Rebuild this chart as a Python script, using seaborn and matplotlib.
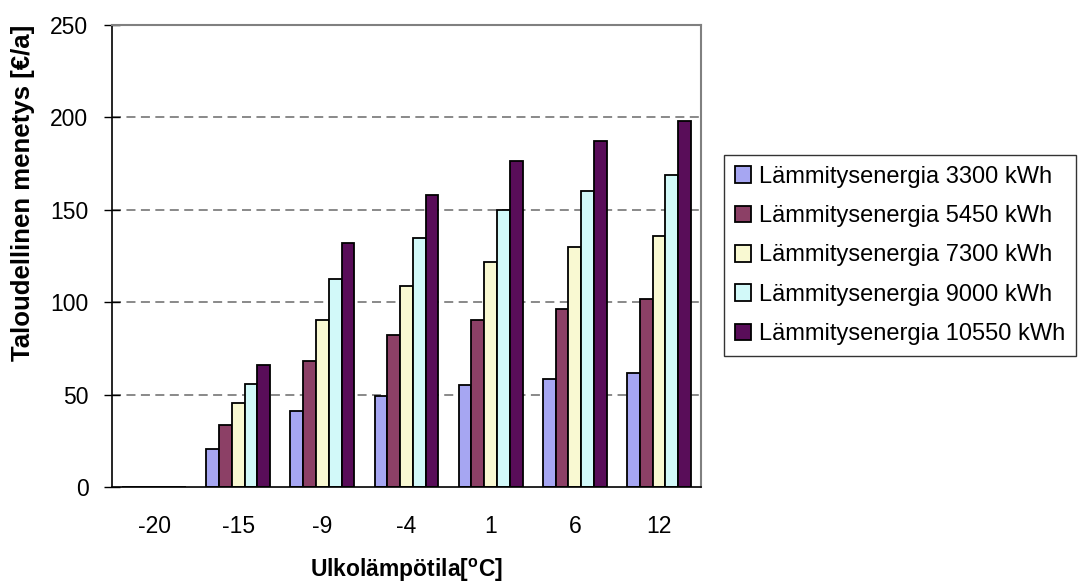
import matplotlib
matplotlib.use("Agg")
import matplotlib.pyplot as plt
import seaborn as sns
import pandas as pd

# data
temps = ["-20", "-15", "-9", "-4", "1", "6", "12"]
series = ["Lämmitysenergia 3300 kWh", "Lämmitysenergia 5450 kWh",
          "Lämmitysenergia 7300 kWh", "Lämmitysenergia 9000 kWh",
          "Lämmitysenergia 10550 kWh"]
e3300 = [0, 20.5, 41, 49.5, 55, 58.5, 61.5]
e5450 = [0, 33.5, 68, 82, 90.5, 96.5, 101.5]
e7300 = [0, 45.5, 90.5, 109, 122, 130, 136]
e9000 = [0, 56, 112.5, 135, 150, 160, 169]
e10550 = [0, 66, 132, 158, 176.5, 187, 198]
colors = ["#9999FF", "#993366", "#FFFFCC", "#CCFFFF", "#660066"]

sns.set_theme(style="white")
plt.rcParams["font.family"] = ["Liberation Sans", "DejaVu Sans"]
plt.rcParams["text.color"] = "black"
plt.rcParams["axes.labelcolor"] = "black"
plt.rcParams["xtick.color"] = "black"
plt.rcParams["ytick.color"] = "black"

rows = []
for name, vals in zip(series, [e3300, e5450, e7300, e9000, e10550]):
    for t, v in zip(temps, vals):
        rows.append({"temp": t, "value": v, "series": name})
df = pd.DataFrame(rows)

fig = plt.figure(figsize=(10.81, 5.82), dpi=100)
ax = fig.add_axes([112 / 1081, 1 - 487 / 582, 589 / 1081, 462 / 582])

sns.barplot(data=df, x="temp", y="value", hue="series", order=temps,
            hue_order=series, palette=colors, edgecolor="black",
            linewidth=1.3, width=0.76, ax=ax, legend=True)

ax.set_ylim(0, 250)
ax.set_xlim(-0.5, len(temps) - 0.5)
ax.set_yticks(range(0, 251, 50))
for yv in [50, 100, 150, 200]:
    ax.axhline(yv, color="#808080", linestyle=(0, (5, 3)), linewidth=1.3, zorder=0)

# ticks between categories, labels in the middle
ax.set_xticks([i - 0.5 for i in range(len(temps) + 1)], minor=True)
ax.tick_params(axis="x", which="minor", direction="out", length=7, width=1, color="black")
ax.tick_params(axis="x", which="major", length=0, pad=20, labelsize=16.5)
ax.tick_params(axis="y", direction="inout", length=12, width=1, color="black",
               pad=11, labelsize=16.5, left=True)

for side in ["left", "bottom"]:
    ax.spines[side].set_color("black")
    ax.spines[side].set_linewidth(1.2)
for side in ["top", "right"]:
    ax.spines[side].set_color("#808080")
    ax.spines[side].set_linewidth(1.5)

ax.set_xlabel("Ulkolämpötila[$\\mathregular{^{o}}$C]", fontsize=16.5, fontweight="bold")
ax.set_ylabel("Taloudellinen menetys [€/a]", fontsize=18.5, fontweight="bold")
ax.xaxis.set_label_coords(0.5, -0.15)
ax.yaxis.set_label_coords(-0.13, 0.636)

handles, labels = ax.get_legend_handles_labels()
ax.get_legend().remove()
leg = fig.legend(handles, labels, loc="center left",
                 bbox_to_anchor=(724 / 1081, 1 - 255.5 / 582),
                 fontsize=17, frameon=True, fancybox=False, borderpad=0.45,
                 handlelength=0.7, handleheight=0.7, handletextpad=0.35,
                 labelspacing=0.74, borderaxespad=0)
leg.get_frame().set_edgecolor("black")
leg.get_frame().set_linewidth(1.0)

fig.savefig("out.png", dpi=100)
